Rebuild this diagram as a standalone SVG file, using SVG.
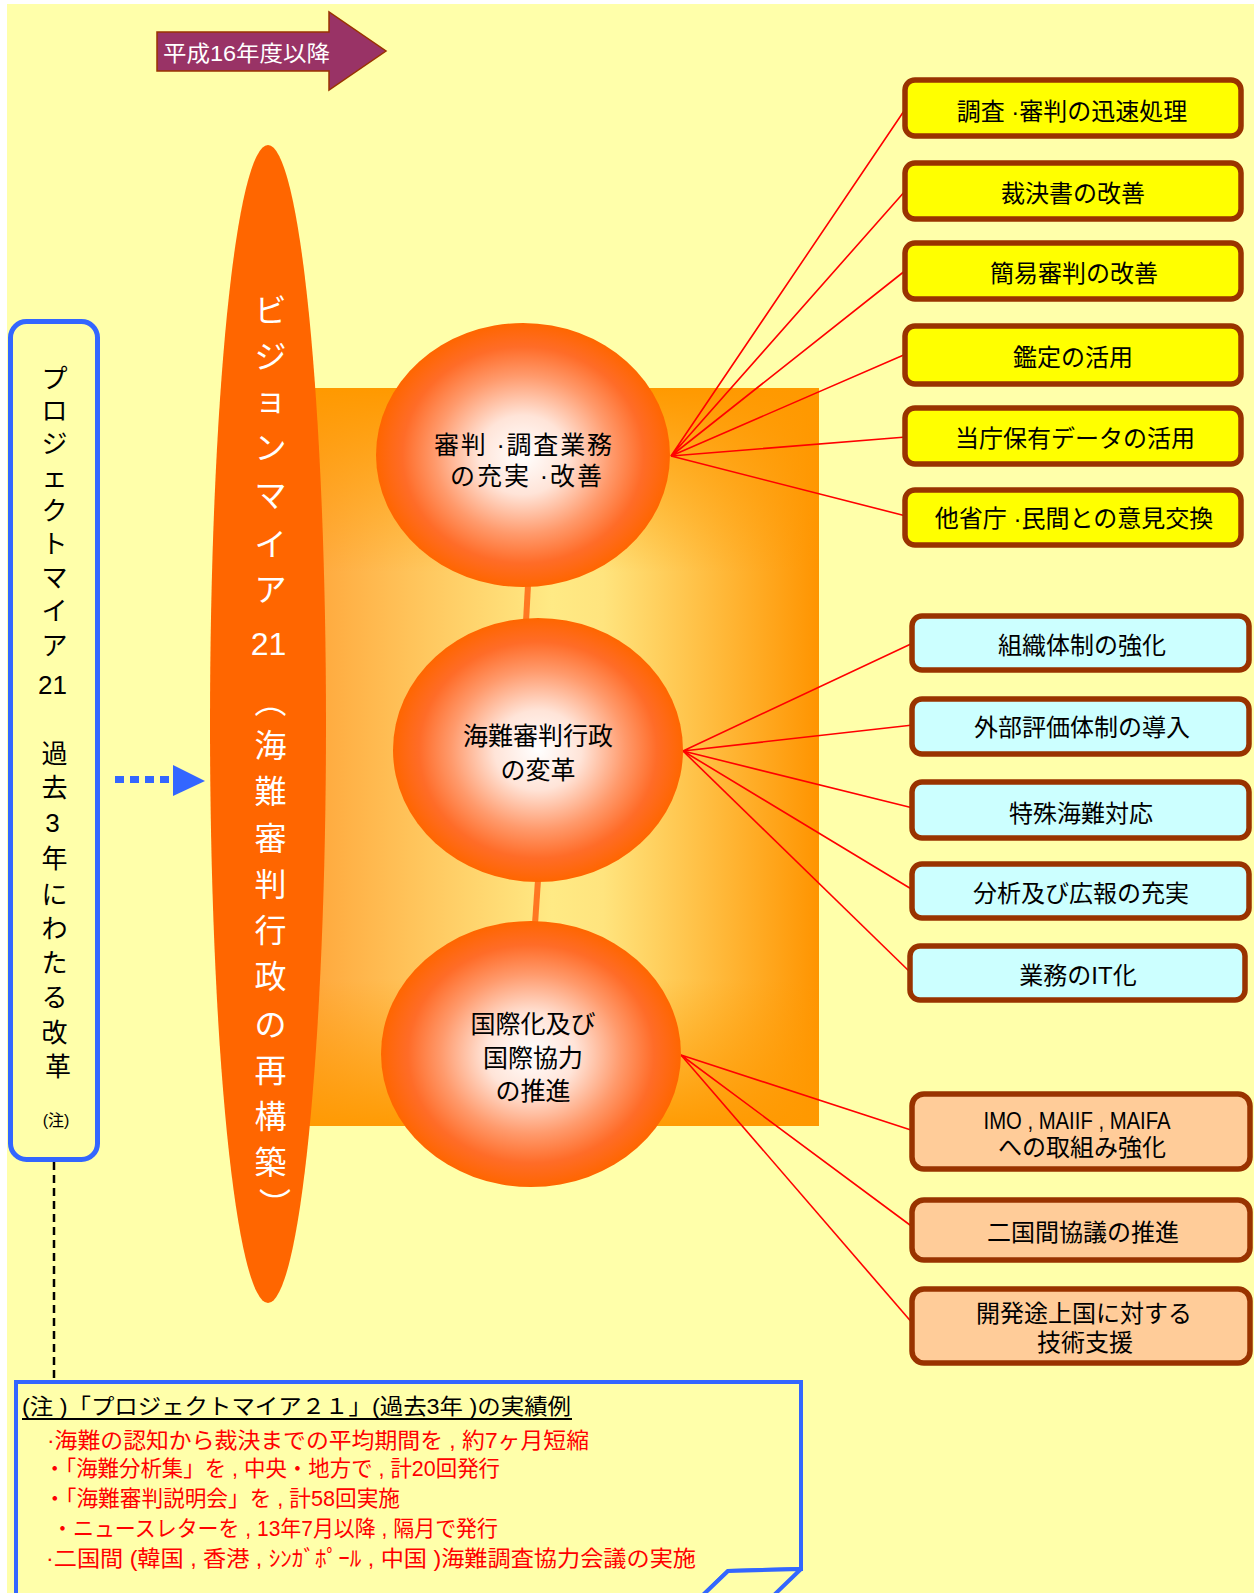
<svg xmlns="http://www.w3.org/2000/svg" width="1254" height="1593" viewBox="0 0 1254 1593">
<defs>
<style>
.f{font-family:'Liberation Sans','Noto Sans CJK JP',sans-serif;}
.bx{stroke:#993300;stroke-width:5.5;}
.yl{fill:#FFFF00;}
.cy{fill:#CCFFFF;}
.pc{fill:#FFCC99;}
.bt{font-size:24px;fill:#000;text-anchor:middle;}
.ct{font-size:25px;fill:#000;text-anchor:middle;}
.red{stroke:#FF0000;stroke-width:1.6;fill:none;}
.link{stroke:#FF7722;stroke-width:6;fill:none;}
.nt{font-size:22px;fill:#FF0000;}
</style>
<radialGradient id="ball" cx="50%" cy="50%" r="50%">
<stop offset="0" stop-color="#FFFFFF"/>
<stop offset="0.3" stop-color="#FFE4D8"/>
<stop offset="0.6" stop-color="#FF9A6C"/>
<stop offset="0.82" stop-color="#FF6C28"/>
<stop offset="1" stop-color="#FF6600"/>
</radialGradient>
<linearGradient id="rh" x1="0" y1="0" x2="1" y2="0">
<stop offset="0" stop-color="#FFA63A"/>
<stop offset="0.48" stop-color="#FFEA85"/>
<stop offset="0.58" stop-color="#FFE47E"/>
<stop offset="1" stop-color="#FF9400"/>
</linearGradient>
<linearGradient id="rv" x1="0" y1="0" x2="0" y2="1">
<stop offset="0" stop-color="#FF9900" stop-opacity="1"/>
<stop offset="0.25" stop-color="#FF9900" stop-opacity="0"/>
<stop offset="0.8" stop-color="#FF9900" stop-opacity="0"/>
<stop offset="1" stop-color="#FF9900" stop-opacity="0.95"/>
</linearGradient>
</defs>

<rect x="0" y="0" width="1254" height="1593" fill="#FFFFFF"/>
<rect x="7" y="4" width="1247" height="1589" fill="#FFFFAA"/>

<g id="bg-panel">
<rect x="305" y="388" width="514" height="738" fill="url(#rh)"/>
<rect x="305" y="388" width="514" height="738" fill="url(#rv)"/>
</g>

<g id="arrow-h16">
<polygon points="157,32 329,32 329,12 386,51 329,90 329,71 157,71" fill="#993366" stroke="#993300" stroke-width="1.5"/>
<text class="f" x="163" y="61" font-size="22" fill="#FFFFFF" textLength="167" lengthAdjust="spacingAndGlyphs">平成16年度以降</text>
</g>

<g id="vision">
<ellipse cx="268" cy="724" rx="58" ry="579" fill="#FF6600"/>
<text class="f" font-size="32" fill="#FFFFFF" text-anchor="middle">
<tspan x="275" y="322">ビ</tspan>
<tspan x="275" y="368">ジ</tspan>
<tspan x="275" y="411">ョ</tspan>
<tspan x="275" y="459">ン</tspan>
<tspan x="275" y="507">マ</tspan>
<tspan x="275" y="556">イ</tspan>
<tspan x="275" y="601">ア</tspan>
<tspan x="273" y="655">21</tspan>
<tspan x="275" y="713">︵</tspan>
<tspan x="275" y="757">海</tspan>
<tspan x="275" y="803">難</tspan>
<tspan x="275" y="850">審</tspan>
<tspan x="275" y="896">判</tspan>
<tspan x="275" y="942">行</tspan>
<tspan x="275" y="988">政</tspan>
<tspan x="275" y="1036">の</tspan>
<tspan x="275" y="1082">再</tspan>
<tspan x="275" y="1128">構</tspan>
<tspan x="275" y="1174">築</tspan>
<tspan x="275" y="1216">︶</tspan>
</text>
</g>

<g id="project">
<rect x="10.5" y="321.5" width="87" height="838" rx="16" fill="#FFFFAA" stroke="#3366FF" stroke-width="5"/>
<text class="f" font-size="26" fill="#000" text-anchor="middle">
<tspan x="58" y="388">プ</tspan>
<tspan x="58" y="420">ロ</tspan>
<tspan x="58" y="453">ジ</tspan>
<tspan x="58" y="487">ェ</tspan>
<tspan x="58" y="520">ク</tspan>
<tspan x="58" y="553">ト</tspan>
<tspan x="58" y="587">マ</tspan>
<tspan x="58" y="620">イ</tspan>
<tspan x="58" y="655">ア</tspan>
<tspan x="56" y="694">21</tspan>
<tspan x="58" y="763">過</tspan>
<tspan x="58" y="797">去</tspan>
<tspan x="56" y="832">3</tspan>
<tspan x="58" y="868">年</tspan>
<tspan x="58" y="904">に</tspan>
<tspan x="58" y="938">わ</tspan>
<tspan x="58" y="972">た</tspan>
<tspan x="58" y="1007">る</tspan>
<tspan x="58" y="1042">改</tspan>
<tspan x="58" y="1076">革</tspan>
</text>
<text class="f" x="56" y="1126" font-size="16" fill="#000" text-anchor="middle">(注)</text>
</g>

<g id="connectors">
<line class="link" x1="528" y1="585" x2="526" y2="622"/>
<line class="link" x1="538" y1="880" x2="535" y2="924"/>
<polyline class="red" points="906,108 671,456 906,190"/>
<polyline class="red" points="906,270 671,456 906,354"/>
<polyline class="red" points="906,437 671,456 906,516"/>
<polyline class="red" points="913,643 683,751 913,725"/>
<polyline class="red" points="913,808 683,751 913,890"/>
<line class="red" x1="683" y1="751" x2="911" y2="973"/>
<polyline class="red" points="914,1131 681,1055 914,1228"/>
<line class="red" x1="681" y1="1055" x2="914" y2="1325"/>
<line x1="54" y1="1162" x2="54" y2="1382" stroke="#000" stroke-width="2.5" stroke-dasharray="8,5"/>
<line x1="115" y1="779.5" x2="169" y2="779.5" stroke="#3366FF" stroke-width="7" stroke-dasharray="9,6"/>
<polygon points="173,765 205,781 173,796" fill="#3366FF"/>
</g>

<g id="goal1">
<ellipse cx="523" cy="455" rx="147" ry="132" fill="url(#ball)"/>
<text class="f ct" font-size="24"><tspan x="523" y="454" textLength="178" lengthAdjust="spacing">審判 ·調査業務</tspan><tspan x="526" y="485" textLength="152" lengthAdjust="spacing">の充実 ·改善</tspan></text>
</g>
<g id="goal2">
<ellipse cx="538" cy="750" rx="145" ry="132" fill="url(#ball)"/>
<text class="f ct" font-size="26"><tspan x="538" y="745">海難審判行政</tspan><tspan x="538" y="779">の変革</tspan></text>
</g>
<g id="goal3">
<ellipse cx="531" cy="1054" rx="150" ry="133" fill="url(#ball)"/>
<text class="f ct" font-size="26"><tspan x="533" y="1033">国際化及び</tspan><tspan x="533" y="1067">国際協力</tspan><tspan x="533" y="1100">の推進</tspan></text>
</g>

<g id="y1"><rect class="bx yl" x="905" y="80" width="336" height="56" rx="10"/><text class="f bt" x="1072" y="119.5">調査 ·審判の迅速処理</text></g>
<g id="y2"><rect class="bx yl" x="905" y="163" width="336" height="56" rx="10"/><text class="f bt" x="1073" y="202">裁決書の改善</text></g>
<g id="y3"><rect class="bx yl" x="905" y="243" width="336" height="56" rx="10"/><text class="f bt" x="1074" y="281.5">簡易審判の改善</text></g>
<g id="y4"><rect class="bx yl" x="905" y="326" width="336" height="58" rx="10"/><text class="f bt" x="1073" y="365.5">鑑定の活用</text></g>
<g id="y5"><rect class="bx yl" x="905" y="408" width="336" height="56" rx="10"/><text class="f bt" x="1075" y="447">当庁保有データの活用</text></g>
<g id="y6"><rect class="bx yl" x="905" y="490" width="336" height="55" rx="10"/><text class="f bt" x="1074" y="527">他省庁 ·民間との意見交換</text></g>

<g id="c1"><rect class="bx cy" x="912" y="616" width="337" height="54" rx="10"/><text class="f bt" x="1082" y="654">組織体制の強化</text></g>
<g id="c2"><rect class="bx cy" x="912" y="699" width="337" height="55" rx="10"/><text class="f bt" x="1082" y="736">外部評価体制の導入</text></g>
<g id="c3"><rect class="bx cy" x="912" y="782" width="337" height="56" rx="10"/><text class="f bt" x="1081" y="822">特殊海難対応</text></g>
<g id="c4"><rect class="bx cy" x="912" y="864" width="337" height="54" rx="10"/><text class="f bt" x="1081" y="902">分析及び広報の充実</text></g>
<g id="c5"><rect class="bx cy" x="910" y="946" width="335" height="54" rx="10"/><text class="f bt" x="1078" y="984">業務のIT化</text></g>

<g id="p1"><rect class="bx pc" x="912" y="1094" width="338" height="75" rx="12"/><text class="f bt"><tspan x="1077" y="1129" textLength="187" lengthAdjust="spacingAndGlyphs">IMO , MAIIF , MAIFA</tspan><tspan x="1082" y="1156">への取組み強化</tspan></text></g>
<g id="p2"><rect class="bx pc" x="912" y="1200" width="338" height="60" rx="12"/><text class="f bt" x="1083" y="1241">二国間協議の推進</text></g>
<g id="p3"><rect class="bx pc" x="912" y="1289" width="338" height="74" rx="12"/><text class="f bt"><tspan x="1084" y="1322">開発途上国に対する</tspan><tspan x="1085" y="1351">技術支援</tspan></text></g>

<g id="note">
<path d="M16,1596 V1382 H801 V1569 L728,1571 L702,1596 Z" fill="#FFFFAA" stroke="#3366FF" stroke-width="4"/>
<path d="M702,1596 L728,1571 L801,1569 L773,1596" fill="#FFFFAA" stroke="#3366FF" stroke-width="4" stroke-linejoin="round"/>
<text class="f" x="22" y="1414" font-size="22" fill="#000" textLength="549" lengthAdjust="spacingAndGlyphs">(注 )「プロジェクトマイア２１」(過去3年 )の実績例</text>
<line x1="22" y1="1419" x2="572" y2="1419" stroke="#000" stroke-width="2"/>
<text class="f nt" x="47" y="1448" textLength="542" lengthAdjust="spacingAndGlyphs">·海難の認知から裁決までの平均期間を , 約7ヶ月短縮</text>
<text class="f nt" x="44" y="1476" textLength="456" lengthAdjust="spacingAndGlyphs">・「海難分析集」を , 中央・地方で , 計20回発行</text>
<text class="f nt" x="44" y="1506" textLength="356" lengthAdjust="spacingAndGlyphs">・「海難審判説明会」を , 計58回実施</text>
<text class="f nt" x="52" y="1536" textLength="446" lengthAdjust="spacingAndGlyphs">・ニュースレターを , 13年7月以降 , 隔月で発行</text>
<text class="f nt" x="46" y="1566" textLength="650" lengthAdjust="spacingAndGlyphs">·二国間 (韓国 , 香港 , ｼﾝｶﾞﾎﾟｰﾙ , 中国 )海難調査協力会議の実施</text>
</g>
</svg>
